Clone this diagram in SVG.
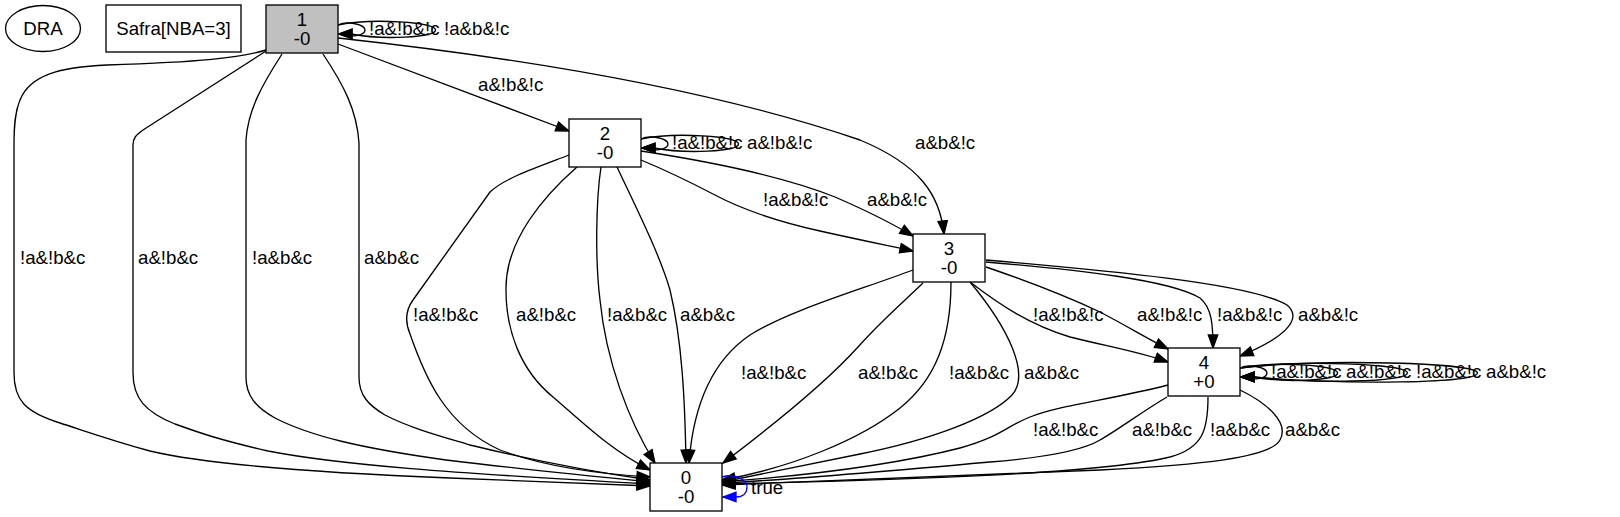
<svg xmlns="http://www.w3.org/2000/svg" width="1620" height="517" viewBox="0 0 1620 517">
<style>
text{font-family:"Liberation Sans",Arial,Helvetica,sans-serif;font-size:18.67px;fill:#000}
.n{fill:#fff;stroke:#000;stroke-width:1.33}
.g{fill:#c0c0c0;stroke:#000;stroke-width:1.33}
.c{text-anchor:middle}
.e{fill:none;stroke:#000;stroke-width:1.33;marker-end:url(#ah)}
.b{fill:none;stroke:#00f;stroke-width:1.33;marker-end:url(#ahb)}
</style>
<defs>
<marker id="ah" markerWidth="18" markerHeight="14" refX="14" refY="6" orient="auto" markerUnits="userSpaceOnUse"><path d="M1,1.3 L14,6 L1,10.7 z" fill="#000" stroke="#000" stroke-width="1.33"/></marker>
<marker id="ahb" markerWidth="18" markerHeight="14" refX="14" refY="6" orient="auto" markerUnits="userSpaceOnUse"><path d="M1,1.3 L14,6 L1,10.7 z" fill="#00f" stroke="#00f" stroke-width="1.33"/></marker>
</defs>
<rect width="1620" height="517" fill="#fff"/>
<g id="nDRA"><ellipse class="n" cx="43" cy="28.5" rx="37.5" ry="23"/><text class="c" x="43" y="35">DRA</text></g>
<g id="nSafra"><rect class="n" x="106" y="5" width="135" height="47"/><text class="c" x="173.5" y="35">Safra[NBA=3]</text></g>
<g id="edges">
<!-- node 1 self loops -->
<path class="e" d="M338,25 C347.5,20.2 365,24.8 365,30 C365,35.2 350.2,38 351,34 L339,34"/>
<path class="e" d="M338,25 C372.2,17.8 435.6,22.2 435.6,30 C435.6,37.8 381.9,40 351,34 L339,34"/>
<text x="369" y="35">!a&amp;!b&amp;!c</text>
<text x="444" y="35">!a&amp;b&amp;!c</text>
<!-- 1 -> 2 -->
<path class="e" d="M338,44 L569,131"/>
<text x="478" y="91">a&amp;!b&amp;!c</text>
<!-- 1 -> 3 -->
<path class="e" d="M338,38 C540,60 720,92 860,140 C920,165 940,195 944,234"/>
<text x="915" y="149">a&amp;b&amp;!c</text>
<!-- 1 -> 0 -->
<path class="e" d="M266,50 C240,58 200,62 107,65 C60,67 30,75 20,100 C15,112 14,125 14,145 L14,373 C14,400 25,412 60,423 C85,431 110,440 150,451 C200,463 300,472 450,478 L650,486"/>
<path class="e" d="M266,51 L143,130 C136,135 133,138 133,145 L133,373 C133,398 145,412 175,424 C200,433 220,440 268,451 C340,465 450,473 650,484"/>
<path class="e" d="M282,54 C262,85 248,110 246,140 L246,377 C246,395 255,407 275,418 C310,436 360,448 446,460 C520,469 580,475 650,482"/>
<path class="e" d="M323,54 C343,84 357,110 359,143 L359,377 C359,395 368,405 385,415 C410,428 440,436 470,445 C540,462 600,473 650,480"/>
<text x="20" y="263.5">!a&amp;!b&amp;c</text>
<text x="138" y="263.5">a&amp;!b&amp;c</text>
<text x="252" y="263.5">!a&amp;b&amp;c</text>
<text x="364" y="263.5">a&amp;b&amp;c</text>
<!-- node 2 self loops -->
<path class="e" d="M641,139 C650.5,134.2 668,138.8 668,144 C668,149.2 653.2,152 654,148 L642,148"/>
<path class="e" d="M641,139 C675.2,131.8 738.6,136.2 738.6,144 C738.6,151.8 684.9,154 654,148 L642,148"/>
<text x="672" y="149">!a&amp;!b&amp;!c</text>
<text x="747" y="149">a&amp;!b&amp;!c</text>
<!-- 2 -> 3 -->
<path class="e" d="M641,151 C700,160 780,175 835,197 C865,210 893,224 913,236"/>
<path class="e" d="M641,160 C670,172 690,182 715,195 C745,211 780,222 820,231 C860,240 890,246 913,251"/>
<text x="763" y="206">!a&amp;b&amp;!c</text>
<text x="867" y="206">a&amp;b&amp;!c</text>
<!-- 2 -> 0 -->
<path class="e" d="M569,155 C535,168 505,178 490,192 L413,300 C405,311 405,322 410,334 C425,377 445,425 500,450 C545,467 600,474 650,477"/>
<path class="e" d="M577,167 C545,195 505,240 506,290 C506,330 520,370 553,397 C580,420 610,450 650,470"/>
<path class="e" d="M601,167 C596,200 595,260 600,300 C606,360 628,420 655,463"/>
<path class="e" d="M617,167 C635,205 660,255 670,290 C682,340 685,400 686,463"/>
<text x="413" y="321">!a&amp;!b&amp;c</text>
<text x="516" y="321">a&amp;!b&amp;c</text>
<text x="607" y="321">!a&amp;b&amp;c</text>
<text x="680" y="321">a&amp;b&amp;c</text>
<!-- 3 -> 4 -->
<path class="e" d="M970,282 C1000,305 1030,325 1070,337 C1110,347 1140,352 1168,362"/>
<path class="e" d="M986,267 C1030,282 1070,298 1100,312 C1125,325 1150,340 1168,349"/>
<path class="e" d="M986,262 C1080,270 1170,280 1200,298 C1212,308 1213,325 1213,348"/>
<path class="e" d="M986,260 C1100,270 1250,283 1287,305 C1305,320 1280,340 1240,356"/>
<text x="1033" y="321">!a&amp;!b&amp;!c</text>
<text x="1137" y="321">a&amp;!b&amp;!c</text>
<text x="1217" y="321">!a&amp;b&amp;!c</text>
<text x="1298" y="321">a&amp;b&amp;!c</text>
<!-- 3 -> 0 -->
<path class="e" d="M913,270 C860,290 790,310 750,335 C710,362 693,410 689,463"/>
<path class="e" d="M923,283 C900,305 880,322 858,347 C830,378 780,420 723,463"/>
<path class="e" d="M951,282 C951,340 935,380 900,408 C860,440 790,468 722,480"/>
<path class="e" d="M970,282 C1010,330 1030,375 1012,395 C990,418 930,440 860,454 C800,466 760,474 722,482"/>
<text x="741" y="379">!a&amp;!b&amp;c</text>
<text x="858" y="379">a&amp;!b&amp;c</text>
<text x="949" y="379">!a&amp;b&amp;c</text>
<text x="1024" y="379">a&amp;b&amp;c</text>
<!-- node 4 self loops -->
<path class="e" d="M1240,368 C1249.5,363.2 1267,367.8 1267,373 C1267,378.2 1252.2,381 1253,377 L1241,377"/>
<path class="e" d="M1240,368 C1274.2,360.8 1337.6,365.2 1337.6,373 C1337.6,380.8 1283.9,383 1253,377 L1241,377"/>
<path class="e" d="M1240,368 C1298.6,359.6 1407.4,363.9 1407.4,373 C1407.4,382.1 1315.3,384 1253,377 L1241,377"/>
<path class="e" d="M1240,368 C1323.1,358.4 1477.4,362.6 1477.4,373 C1477.4,383.4 1346.8,385 1253,377 L1241,377"/>
<text x="1271" y="378">!a&amp;!b&amp;!c</text>
<text x="1346" y="378">a&amp;!b&amp;!c</text>
<text x="1416" y="378">!a&amp;b&amp;!c</text>
<text x="1486" y="378">a&amp;b&amp;!c</text>
<!-- 4 -> 0 -->
<path class="e" d="M1168,385 C1110,400 1060,405 1030,417 C1005,427 1000,437 960,448 C890,466 800,476 722,482"/>
<path class="e" d="M1167,397 C1140,413 1118,430 1100,440 C1080,452 1040,458 990,462 C880,472 800,479 722,483"/>
<path class="e" d="M1208,397 C1208,430 1203,448 1170,457 C1100,474 900,480 722,484"/>
<path class="e" d="M1240,390 C1265,402 1290,422 1280,440 C1270,458 1200,465 1100,470 C950,477 800,482 722,485"/>
<text x="1033" y="436">!a&amp;!b&amp;c</text>
<text x="1132" y="436">a&amp;!b&amp;c</text>
<text x="1210" y="436">!a&amp;b&amp;c</text>
<text x="1285" y="436">a&amp;b&amp;c</text>
<!-- node 0 self loop -->
<path class="b" d="M722,477 C735,473 747,480 747,487 C747,494 742,497 736,497 L723,497"/>
<text x="751" y="494">true</text>
</g>
<g id="n1"><rect class="g" x="266" y="5" width="72" height="48"/><text class="c" x="302" y="26">1</text><text class="c" x="302" y="44.5">-0</text></g>
<g id="n2"><rect class="n" x="569" y="119" width="72" height="48"/><text class="c" x="605" y="140">2</text><text class="c" x="605" y="158.5">-0</text></g>
<g id="n3"><rect class="n" x="913" y="234" width="72" height="48"/><text class="c" x="949" y="255">3</text><text class="c" x="949" y="273.5">-0</text></g>
<g id="n4"><rect class="n" x="1168" y="348" width="72" height="48"/><text class="c" x="1204" y="369">4</text><text class="c" x="1204" y="387.5">+0</text></g>
<g id="n0"><rect class="n" x="650" y="463" width="72" height="48"/><text class="c" x="686" y="484">0</text><text class="c" x="686" y="502.5">-0</text></g>
</svg>
